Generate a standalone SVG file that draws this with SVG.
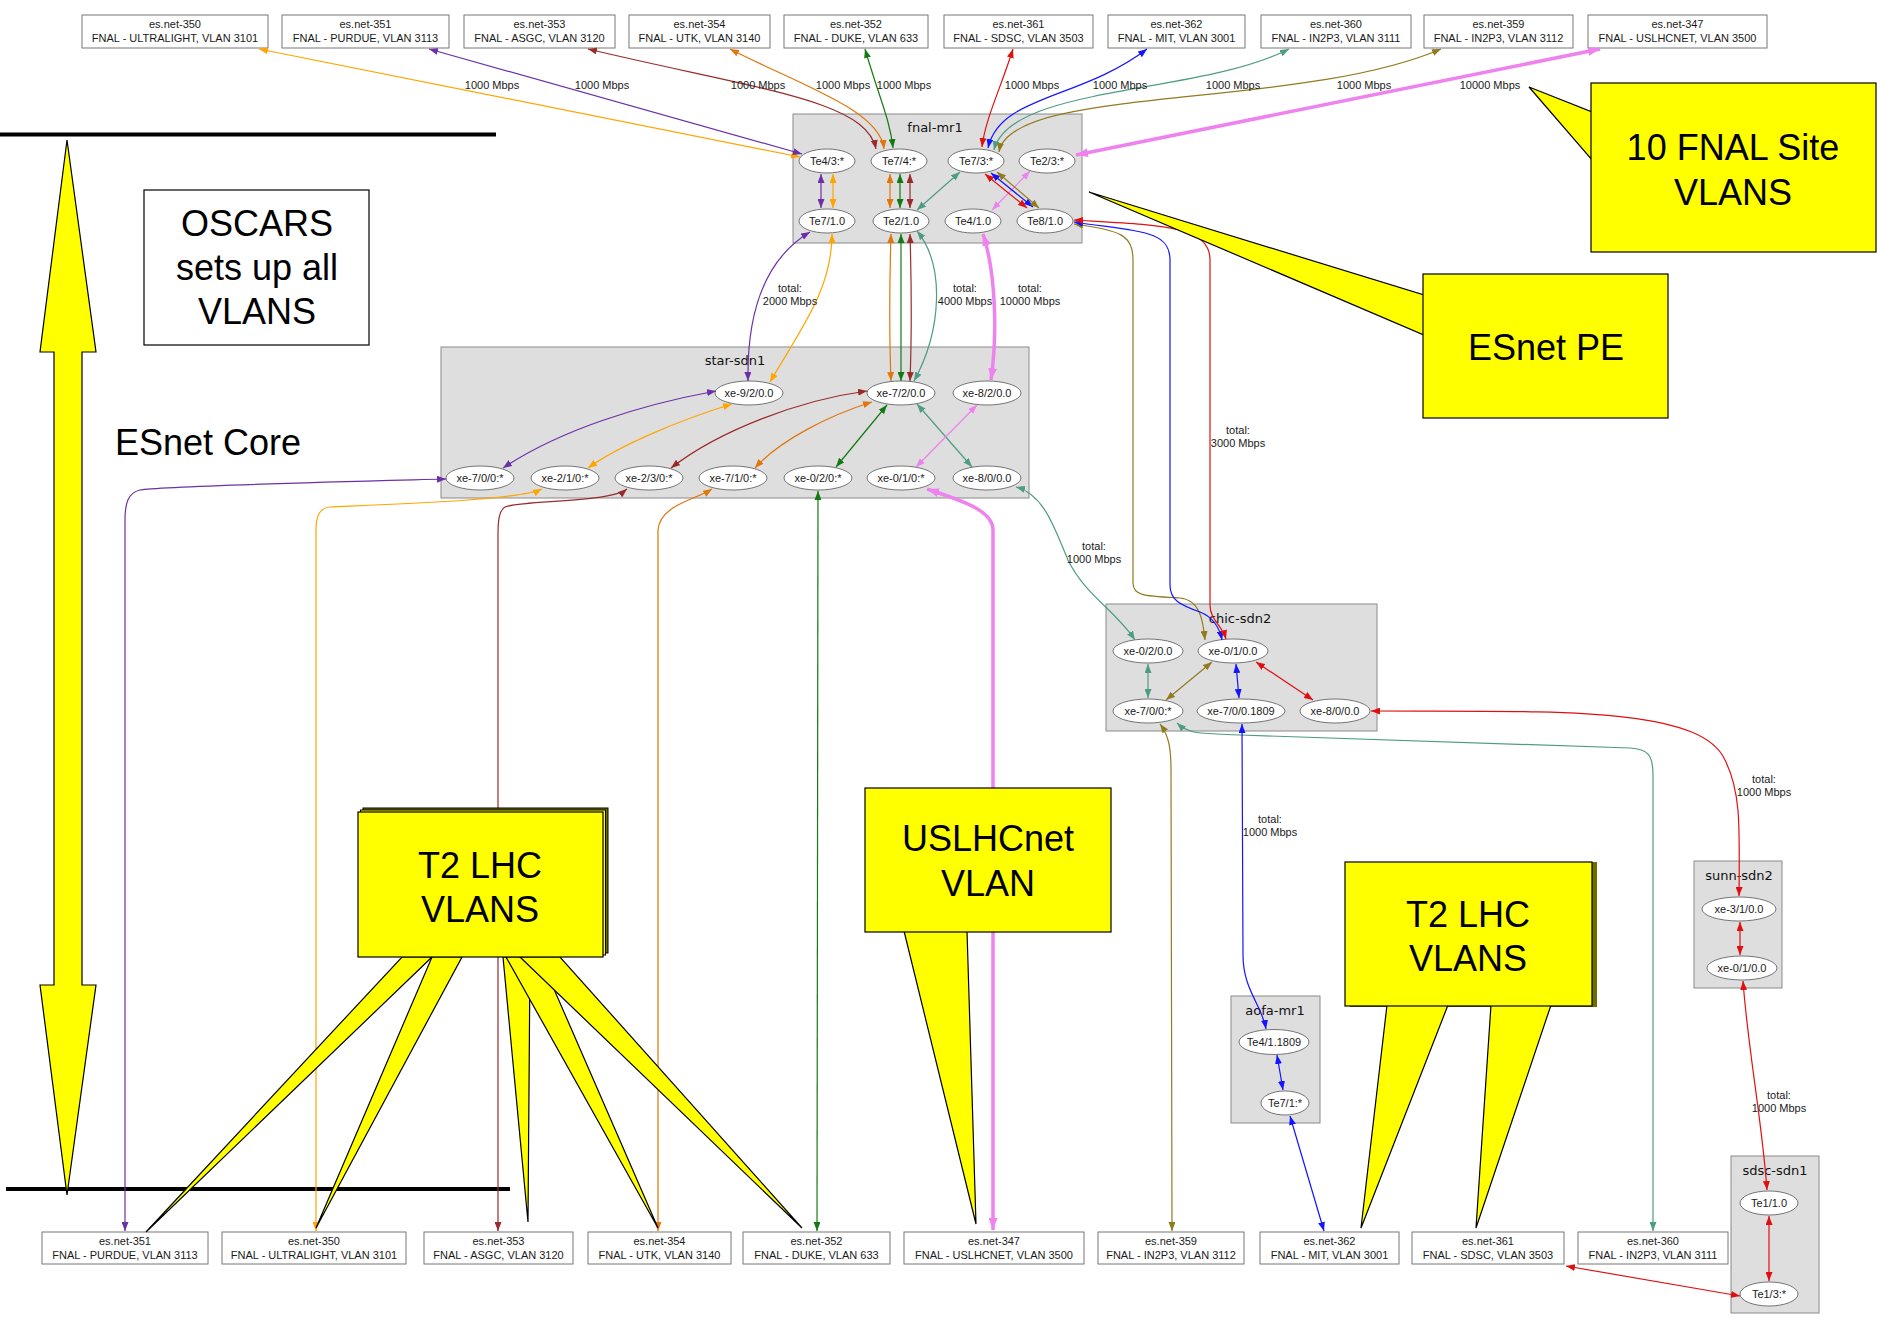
<svg xmlns="http://www.w3.org/2000/svg" width="1883" height="1319" viewBox="0 0 1883 1319">
<style>
text{font-family:"Liberation Sans",Arial,sans-serif;fill:#1a1a1a;text-anchor:middle}
.s{font-size:11px}
.c{font-family:"DejaVu Sans",sans-serif;font-size:13px;fill:#111}
.big{font-size:36px;fill:#000}
.box{fill:#fff;stroke:#777;stroke-width:1}
.cl{fill:#dedede;stroke:#8a8a8a;stroke-width:1}
.nd{fill:#fff;stroke:#555;stroke-width:0.8}
.call{fill:#ffff00;stroke:#000;stroke-width:1.2}
.e{fill:none;stroke-width:1.2}
.or{stroke:#FFA500;marker-start:url(#m-or);marker-end:url(#m-or)}
.pu{stroke:#6B30A8;marker-start:url(#m-pu);marker-end:url(#m-pu)}
.br{stroke:#992B2B;marker-start:url(#m-br);marker-end:url(#m-br)}
.ut{stroke:#E0760C;marker-start:url(#m-ut);marker-end:url(#m-ut)}
.gr{stroke:#137A13;marker-start:url(#m-gr);marker-end:url(#m-gr)}
.rd{stroke:#E01010;marker-start:url(#m-rd);marker-end:url(#m-rd)}
.bl{stroke:#1414FF;marker-start:url(#m-bl);marker-end:url(#m-bl)}
.te{stroke:#4F9C84;marker-start:url(#m-te);marker-end:url(#m-te)}
.ol{stroke:#927A1E;marker-start:url(#m-ol);marker-end:url(#m-ol)}
.vi{stroke:#EE82EE;marker-start:url(#m-vi);marker-end:url(#m-vi)}
.vk{stroke:#EE82EE;stroke-width:3.5;marker-start:url(#m-vk);marker-end:url(#m-vk)}
</style>
<defs>
<marker id="m-or" viewBox="0 0 10 10" refX="10" refY="5" markerWidth="9" markerHeight="7" markerUnits="userSpaceOnUse" orient="auto-start-reverse" preserveAspectRatio="none"><path d="M0,0L10,5L0,10z" fill="#FFA500"/></marker>
<marker id="m-pu" viewBox="0 0 10 10" refX="10" refY="5" markerWidth="9" markerHeight="7" markerUnits="userSpaceOnUse" orient="auto-start-reverse" preserveAspectRatio="none"><path d="M0,0L10,5L0,10z" fill="#6B30A8"/></marker>
<marker id="m-br" viewBox="0 0 10 10" refX="10" refY="5" markerWidth="9" markerHeight="7" markerUnits="userSpaceOnUse" orient="auto-start-reverse" preserveAspectRatio="none"><path d="M0,0L10,5L0,10z" fill="#992B2B"/></marker>
<marker id="m-ut" viewBox="0 0 10 10" refX="10" refY="5" markerWidth="9" markerHeight="7" markerUnits="userSpaceOnUse" orient="auto-start-reverse" preserveAspectRatio="none"><path d="M0,0L10,5L0,10z" fill="#E0760C"/></marker>
<marker id="m-gr" viewBox="0 0 10 10" refX="10" refY="5" markerWidth="9" markerHeight="7" markerUnits="userSpaceOnUse" orient="auto-start-reverse" preserveAspectRatio="none"><path d="M0,0L10,5L0,10z" fill="#137A13"/></marker>
<marker id="m-rd" viewBox="0 0 10 10" refX="10" refY="5" markerWidth="9" markerHeight="7" markerUnits="userSpaceOnUse" orient="auto-start-reverse" preserveAspectRatio="none"><path d="M0,0L10,5L0,10z" fill="#E01010"/></marker>
<marker id="m-bl" viewBox="0 0 10 10" refX="10" refY="5" markerWidth="9" markerHeight="7" markerUnits="userSpaceOnUse" orient="auto-start-reverse" preserveAspectRatio="none"><path d="M0,0L10,5L0,10z" fill="#1414FF"/></marker>
<marker id="m-te" viewBox="0 0 10 10" refX="10" refY="5" markerWidth="9" markerHeight="7" markerUnits="userSpaceOnUse" orient="auto-start-reverse" preserveAspectRatio="none"><path d="M0,0L10,5L0,10z" fill="#4F9C84"/></marker>
<marker id="m-ol" viewBox="0 0 10 10" refX="10" refY="5" markerWidth="9" markerHeight="7" markerUnits="userSpaceOnUse" orient="auto-start-reverse" preserveAspectRatio="none"><path d="M0,0L10,5L0,10z" fill="#927A1E"/></marker>
<marker id="m-vi" viewBox="0 0 10 10" refX="10" refY="5" markerWidth="9" markerHeight="7" markerUnits="userSpaceOnUse" orient="auto-start-reverse" preserveAspectRatio="none"><path d="M0,0L10,5L0,10z" fill="#EE82EE"/></marker>
<marker id="m-vk" viewBox="0 0 10 10" refX="10" refY="5" markerWidth="12" markerHeight="9" markerUnits="userSpaceOnUse" orient="auto-start-reverse" preserveAspectRatio="none"><path d="M0,0L10,5L0,10z" fill="#EE82EE"/></marker>
</defs>
<rect width="1883" height="1319" fill="#fff"/>

<g id="annotations">
<line x1="0" y1="134.5" x2="496" y2="134.5" stroke="#000" stroke-width="4"/>
<line x1="6" y1="1189" x2="510" y2="1189" stroke="#000" stroke-width="4"/>
<polygon class="call" points="67,140 96,352 82,352 82,985 96,985 67,1195 40,985 54,985 54,352 40,352"/>
<rect x="144" y="190" width="225" height="155" fill="#fff" stroke="#000" stroke-width="1.2"/>
<text class="big" x="257" y="236">OSCARS</text>
<text class="big" x="257" y="280">sets up all</text>
<text class="big" x="257" y="324">VLANS</text>
<text class="big" x="208" y="455">ESnet Core</text>
</g>

<g id="fnal-mr1">
<rect class="cl" x="793" y="114" width="289" height="129"/>
<text class="c" x="935" y="132">fnal-mr1</text>
</g>
<g id="fnal-Te4-3"><ellipse class="nd" cx="827" cy="161" rx="28" ry="12"/><text class="s" x="827" y="165">Te4/3:*</text></g>
<g id="fnal-Te7-4"><ellipse class="nd" cx="899" cy="161" rx="28" ry="12"/><text class="s" x="899" y="165">Te7/4:*</text></g>
<g id="fnal-Te7-3"><ellipse class="nd" cx="976" cy="161" rx="28" ry="12"/><text class="s" x="976" y="165">Te7/3:*</text></g>
<g id="fnal-Te2-3"><ellipse class="nd" cx="1047" cy="161" rx="28" ry="12"/><text class="s" x="1047" y="165">Te2/3:*</text></g>
<g id="fnal-Te7-1"><ellipse class="nd" cx="827" cy="221" rx="28" ry="12"/><text class="s" x="827" y="225">Te7/1.0</text></g>
<g id="fnal-Te2-1"><ellipse class="nd" cx="901" cy="221" rx="28" ry="12"/><text class="s" x="901" y="225">Te2/1.0</text></g>
<g id="fnal-Te4-1"><ellipse class="nd" cx="973" cy="221" rx="28" ry="12"/><text class="s" x="973" y="225">Te4/1.0</text></g>
<g id="fnal-Te8-1"><ellipse class="nd" cx="1045" cy="221" rx="28" ry="12"/><text class="s" x="1045" y="225">Te8/1.0</text></g>

<g id="star-sdn1">
<rect class="cl" x="441" y="347" width="588" height="151"/>
<text class="c" x="735" y="365">star-sdn1</text>
</g>
<g id="star-xe-9-2"><ellipse class="nd" cx="749" cy="393" rx="34" ry="12"/><text class="s" x="749" y="397">xe-9/2/0.0</text></g>
<g id="star-xe-7-2"><ellipse class="nd" cx="901" cy="393" rx="34" ry="12"/><text class="s" x="901" y="397">xe-7/2/0.0</text></g>
<g id="star-xe-8-2"><ellipse class="nd" cx="987" cy="393" rx="34" ry="12"/><text class="s" x="987" y="397">xe-8/2/0.0</text></g>
<g id="star-xe-7-0"><ellipse class="nd" cx="480" cy="478" rx="34" ry="12"/><text class="s" x="480" y="482">xe-7/0/0:*</text></g>
<g id="star-xe-2-1"><ellipse class="nd" cx="565" cy="478" rx="34" ry="12"/><text class="s" x="565" y="482">xe-2/1/0:*</text></g>
<g id="star-xe-2-3"><ellipse class="nd" cx="649" cy="478" rx="34" ry="12"/><text class="s" x="649" y="482">xe-2/3/0:*</text></g>
<g id="star-xe-7-1"><ellipse class="nd" cx="733" cy="478" rx="34" ry="12"/><text class="s" x="733" y="482">xe-7/1/0:*</text></g>
<g id="star-xe-0-2"><ellipse class="nd" cx="818" cy="478" rx="34" ry="12"/><text class="s" x="818" y="482">xe-0/2/0:*</text></g>
<g id="star-xe-0-1"><ellipse class="nd" cx="901" cy="478" rx="34" ry="12"/><text class="s" x="901" y="482">xe-0/1/0:*</text></g>
<g id="star-xe-8-0"><ellipse class="nd" cx="987" cy="478" rx="34" ry="12"/><text class="s" x="987" y="482">xe-8/0/0.0</text></g>

<g id="chic-sdn2">
<rect class="cl" x="1106" y="604" width="271" height="127"/>
<text class="c" x="1240" y="623">chic-sdn2</text>
</g>
<g id="chic-xe-0-2"><ellipse class="nd" cx="1148" cy="651" rx="35" ry="12"/><text class="s" x="1148" y="655">xe-0/2/0.0</text></g>
<g id="chic-xe-0-1"><ellipse class="nd" cx="1233" cy="651" rx="35" ry="12"/><text class="s" x="1233" y="655">xe-0/1/0.0</text></g>
<g id="chic-xe-7-0"><ellipse class="nd" cx="1148" cy="711" rx="35" ry="12"/><text class="s" x="1148" y="715">xe-7/0/0:*</text></g>
<g id="chic-xe-7-0-1809"><ellipse class="nd" cx="1241" cy="711" rx="44" ry="12"/><text class="s" x="1241" y="715">xe-7/0/0.1809</text></g>
<g id="chic-xe-8-0"><ellipse class="nd" cx="1335" cy="711" rx="35" ry="12"/><text class="s" x="1335" y="715">xe-8/0/0.0</text></g>

<g id="aofa-mr1">
<rect class="cl" x="1231" y="996" width="89" height="127"/>
<text class="c" x="1275" y="1015">aofa-mr1</text>
</g>
<g id="aofa-Te4-1"><ellipse class="nd" cx="1274" cy="1042" rx="35" ry="12.5"/><text class="s" x="1274" y="1046">Te4/1.1809</text></g>
<g id="aofa-Te7-1"><ellipse class="nd" cx="1285" cy="1103" rx="24" ry="12"/><text class="s" x="1285" y="1107">Te7/1:*</text></g>

<g id="sunn-sdn2">
<rect class="cl" x="1694" y="861" width="88" height="127"/>
<text class="c" x="1739" y="880">sunn-sdn2</text>
</g>
<g id="sunn-xe-3-1"><ellipse class="nd" cx="1739" cy="909" rx="37" ry="12"/><text class="s" x="1739" y="913">xe-3/1/0.0</text></g>
<g id="sunn-xe-0-1"><ellipse class="nd" cx="1742" cy="968" rx="35" ry="12"/><text class="s" x="1742" y="972">xe-0/1/0.0</text></g>

<g id="sdsc-sdn1">
<rect class="cl" x="1731" y="1156" width="88" height="157"/>
<text class="c" x="1775" y="1175">sdsc-sdn1</text>
</g>
<g id="sdsc-Te1-1"><ellipse class="nd" cx="1769" cy="1203" rx="29" ry="12"/><text class="s" x="1769" y="1207">Te1/1.0</text></g>
<g id="sdsc-Te1-3"><ellipse class="nd" cx="1769" cy="1294" rx="29" ry="12"/><text class="s" x="1769" y="1298">Te1/3:*</text></g>

<g id="top-350"><rect class="box" x="82" y="15" width="186" height="33"/><text class="s" x="175" y="28">es.net-350</text><text class="s" x="175" y="42">FNAL - ULTRALIGHT, VLAN 3101</text></g>
<g id="top-351"><rect class="box" x="282" y="15" width="167" height="33"/><text class="s" x="365.5" y="28">es.net-351</text><text class="s" x="365.5" y="42">FNAL - PURDUE, VLAN 3113</text></g>
<g id="top-353"><rect class="box" x="464" y="15" width="151" height="33"/><text class="s" x="539.5" y="28">es.net-353</text><text class="s" x="539.5" y="42">FNAL - ASGC, VLAN 3120</text></g>
<g id="top-354"><rect class="box" x="629" y="15" width="141" height="33"/><text class="s" x="699.5" y="28">es.net-354</text><text class="s" x="699.5" y="42">FNAL - UTK, VLAN 3140</text></g>
<g id="top-352"><rect class="box" x="784" y="15" width="144" height="33"/><text class="s" x="856" y="28">es.net-352</text><text class="s" x="856" y="42">FNAL - DUKE, VLAN 633</text></g>
<g id="top-361"><rect class="box" x="944" y="15" width="149" height="33"/><text class="s" x="1018.5" y="28">es.net-361</text><text class="s" x="1018.5" y="42">FNAL - SDSC, VLAN 3503</text></g>
<g id="top-362"><rect class="box" x="1108" y="15" width="137" height="33"/><text class="s" x="1176.5" y="28">es.net-362</text><text class="s" x="1176.5" y="42">FNAL - MIT, VLAN 3001</text></g>
<g id="top-360"><rect class="box" x="1261" y="15" width="150" height="33"/><text class="s" x="1336" y="28">es.net-360</text><text class="s" x="1336" y="42">FNAL - IN2P3, VLAN 3111</text></g>
<g id="top-359"><rect class="box" x="1424" y="15" width="149" height="33"/><text class="s" x="1498.5" y="28">es.net-359</text><text class="s" x="1498.5" y="42">FNAL - IN2P3, VLAN 3112</text></g>
<g id="top-347"><rect class="box" x="1588" y="15" width="179" height="33"/><text class="s" x="1677.5" y="28">es.net-347</text><text class="s" x="1677.5" y="42">FNAL - USLHCNET, VLAN 3500</text></g>

<g id="bot-351"><rect class="box" x="42" y="1232" width="166" height="32"/><text class="s" x="125" y="1245">es.net-351</text><text class="s" x="125" y="1259">FNAL - PURDUE, VLAN 3113</text></g>
<g id="bot-350"><rect class="box" x="222" y="1232" width="184" height="32"/><text class="s" x="314" y="1245">es.net-350</text><text class="s" x="314" y="1259">FNAL - ULTRALIGHT, VLAN 3101</text></g>
<g id="bot-353"><rect class="box" x="424" y="1232" width="149" height="32"/><text class="s" x="498.5" y="1245">es.net-353</text><text class="s" x="498.5" y="1259">FNAL - ASGC, VLAN 3120</text></g>
<g id="bot-354"><rect class="box" x="588" y="1232" width="143" height="32"/><text class="s" x="659.5" y="1245">es.net-354</text><text class="s" x="659.5" y="1259">FNAL - UTK, VLAN 3140</text></g>
<g id="bot-352"><rect class="box" x="743" y="1232" width="147" height="32"/><text class="s" x="816.5" y="1245">es.net-352</text><text class="s" x="816.5" y="1259">FNAL - DUKE, VLAN 633</text></g>
<g id="bot-347"><rect class="box" x="904" y="1232" width="180" height="32"/><text class="s" x="994" y="1245">es.net-347</text><text class="s" x="994" y="1259">FNAL - USLHCNET, VLAN 3500</text></g>
<g id="bot-359"><rect class="box" x="1098" y="1232" width="146" height="32"/><text class="s" x="1171" y="1245">es.net-359</text><text class="s" x="1171" y="1259">FNAL - IN2P3, VLAN 3112</text></g>
<g id="bot-362"><rect class="box" x="1260" y="1232" width="139" height="32"/><text class="s" x="1329.5" y="1245">es.net-362</text><text class="s" x="1329.5" y="1259">FNAL - MIT, VLAN 3001</text></g>
<g id="bot-361"><rect class="box" x="1412" y="1232" width="152" height="32"/><text class="s" x="1488" y="1245">es.net-361</text><text class="s" x="1488" y="1259">FNAL - SDSC, VLAN 3503</text></g>
<g id="bot-360"><rect class="box" x="1578" y="1232" width="150" height="32"/><text class="s" x="1653" y="1245">es.net-360</text><text class="s" x="1653" y="1259">FNAL - IN2P3, VLAN 3111</text></g>

<g id="connectors">
<path class="e or" d="M259,49 L800,157"/>
<path class="e pu" d="M429,49 L802,154"/>
<path class="e br" d="M588,49 C760,90 866,100 876,149"/>
<path class="e ut" d="M730,49 C800,85 880,110 884,149"/>
<path class="e gr" d="M865,49 C880,100 890,120 893,148"/>
<path class="e rd" d="M1013,49 C1000,90 985,120 982,147"/>
<path class="e bl" d="M1147,49 C1080,100 1000,95 988,148"/>
<path class="e te" d="M1289,49 C1200,95 1010,85 994,150"/>
<path class="e ol" d="M1441,49 C1300,110 1010,85 999,152"/>
<path class="e vk" d="M1600,49 L1076,155"/>

<path class="e pu" d="M821,174 L821,208"/>
<path class="e or" d="M833,174 L833,208"/>
<path class="e ut" d="M890,174 L890,208"/>
<path class="e gr" d="M900,174 L900,208"/>
<path class="e br" d="M910,174 L910,208"/>
<path class="e te" d="M960,172 L917,210"/>
<path class="e vi" d="M1030,171 L992,210"/>
<path class="e rd" d="M985,174 L1027,208"/>
<path class="e bl" d="M991,173 L1033,207"/>
<path class="e ol" d="M997,172 L1039,208"/>

<path class="e pu" d="M810,232 C760,262 747,320 748,381"/>
<path class="e or" d="M832,234 C832,290 800,330 770,382"/>
<path class="e ut" d="M891,234 C889,300 889,330 891,381"/>
<path class="e gr" d="M901,234 L901,381"/>
<path class="e br" d="M910,234 C912,300 912,330 910,381"/>
<path class="e te" d="M917,231 C945,265 942,330 914,381"/>
<path class="e vk" d="M983,234 C995,270 998,330 991,380"/>

<path class="e pu" d="M716,391 C640,405 560,430 503,468"/>
<path class="e or" d="M732,404 C680,420 620,445 588,468"/>
<path class="e br" d="M867,391 C800,400 720,430 671,468"/>
<path class="e ut" d="M872,402 C830,415 780,440 755,468"/>
<path class="e gr" d="M887,405 L836,467"/>
<path class="e te" d="M917,404 L972,467"/>
<path class="e vi" d="M977,405 L916,467"/>

<path class="e pu" d="M446,479 C330,482 160,486 140,490 C128,493 125,503 125,520 L125,1231"/>
<path class="e or" d="M542,489 C520,500 400,504 330,507 C320,508 316,515 316,530 L316,1231"/>
<path class="e br" d="M627,489 C610,503 520,500 505,507 C499,511 498,520 498,535 L498,1231"/>
<path class="e ut" d="M712,489 C695,500 660,505 658,530 L658,1231"/>
<path class="e gr" d="M818,491 L817,1231"/>
<path class="e vk" d="M927,489 C960,500 993,510 993,530 L993,1230"/>
<path class="e te" d="M1016,487 C1045,495 1055,530 1068,560 C1085,595 1115,610 1135,640"/>

<path class="e ol" d="M1074,224 C1120,230 1133,235 1133,260 L1133,583 C1133,596 1145,596 1180,598 C1200,600 1203,620 1205,640"/>
<path class="e bl" d="M1074,222 C1140,232 1170,230 1170,260 L1170,585 C1170,600 1180,605 1200,612 C1215,618 1220,630 1222,640"/>
<path class="e rd" d="M1074,220 C1160,225 1210,225 1210,260 L1210,605 C1210,620 1222,625 1226,639"/>

<path class="e te" d="M1148,664 L1148,698"/>
<path class="e ol" d="M1212,662 L1166,700"/>
<path class="e bl" d="M1236,664 L1239,698"/>
<path class="e rd" d="M1256,662 L1313,700"/>

<path class="e ol" d="M1160,724 C1168,735 1171,745 1171,770 L1172,1231"/>
<path class="e te" d="M1177,723 C1190,735 1200,733 1240,735 L1630,748 C1648,749 1653,755 1653,775 L1653,1231"/>
<path class="e bl" d="M1242,724 L1243,955 C1243,990 1262,1005 1266,1029"/>
<path class="e rd" d="M1371,711 C1550,712 1700,705 1725,760 C1740,790 1740,820 1739,896"/>

<path class="e rd" d="M1740,922 L1740,955"/>
<path class="e rd" d="M1743,981 C1748,1050 1762,1120 1767,1190"/>
<path class="e rd" d="M1769,1216 L1769,1281"/>
<path class="e rd" d="M1740,1296 L1566,1266"/>
<path class="e bl" d="M1277,1055 L1283,1090"/>
<path class="e bl" d="M1290,1116 L1324,1231"/>
</g>

<g id="edge-labels">
<text class="s" x="492" y="89">1000 Mbps</text>
<text class="s" x="602" y="89">1000 Mbps</text>
<text class="s" x="758" y="89">1000 Mbps</text>
<text class="s" x="843" y="89">1000 Mbps</text>
<text class="s" x="904" y="89">1000 Mbps</text>
<text class="s" x="1032" y="89">1000 Mbps</text>
<text class="s" x="1120" y="89">1000 Mbps</text>
<text class="s" x="1233" y="89">1000 Mbps</text>
<text class="s" x="1364" y="89">1000 Mbps</text>
<text class="s" x="1490" y="89">10000 Mbps</text>
<text class="s" x="790" y="292">total:</text><text class="s" x="790" y="305">2000 Mbps</text>
<text class="s" x="965" y="292">total:</text><text class="s" x="965" y="305">4000 Mbps</text>
<text class="s" x="1030" y="292">total:</text><text class="s" x="1030" y="305">10000 Mbps</text>
<text class="s" x="1238" y="434">total:</text><text class="s" x="1238" y="447">3000 Mbps</text>
<text class="s" x="1094" y="550">total:</text><text class="s" x="1094" y="563">1000 Mbps</text>
<text class="s" x="1270" y="823">total:</text><text class="s" x="1270" y="836">1000 Mbps</text>
<text class="s" x="1764" y="783">total:</text><text class="s" x="1764" y="796">1000 Mbps</text>
<text class="s" x="1779" y="1099">total:</text><text class="s" x="1779" y="1112">1000 Mbps</text>
</g>

<g id="callout-fnal">
<polygon class="call" points="1529,87 1592,112 1592,160"/>
<rect class="call" x="1591" y="83" width="285" height="169"/>
<text class="big" x="1733" y="160">10 FNAL Site</text>
<text class="big" x="1733" y="205">VLANS</text>
</g>
<g id="callout-pe">
<polygon class="call" points="1089,192 1424,295 1424,335"/>
<rect class="call" x="1423" y="274" width="245" height="144"/>
<text class="big" x="1546" y="360">ESnet PE</text>
</g>
<g id="callout-t2-left">
<rect x="363" y="808" width="245" height="145" fill="#6e6e00" stroke="#000" stroke-width="1"/>
<rect x="360.5" y="810" width="245" height="145" fill="#ffff00" stroke="#000" stroke-width="1"/>
<polygon class="call" points="402,957 432,957 146,1232"/>
<polygon class="call" points="432,957 462,957 316,1228"/>
<polygon class="call" points="503,957 530,957 528,1222"/>
<polygon class="call" points="506,957 540,957 658,1228"/>
<polygon class="call" points="520,957 560,957 802,1228"/>
<rect class="call" x="358" y="812" width="245" height="145"/>
<text class="big" x="480" y="878">T2 LHC</text>
<text class="big" x="480" y="922">VLANS</text>
</g>
<g id="callout-uslhcnet">
<polygon class="call" points="904,931 967,931 976,1224"/>
<rect class="call" x="865" y="788" width="246" height="144"/>
<text class="big" x="988" y="851">USLHCnet</text>
<text class="big" x="988" y="896">VLAN</text>
</g>
<g id="callout-t2-right">
<rect x="1350" y="862" width="247" height="145" fill="#6e6e00"/>
<polygon class="call" points="1387,1005 1448,1005 1361,1228"/>
<polygon class="call" points="1491,1005 1551,1005 1476,1228"/>
<rect class="call" x="1345" y="862" width="247" height="144"/>
<text class="big" x="1468" y="927">T2 LHC</text>
<text class="big" x="1468" y="971">VLANS</text>
</g>
</svg>
